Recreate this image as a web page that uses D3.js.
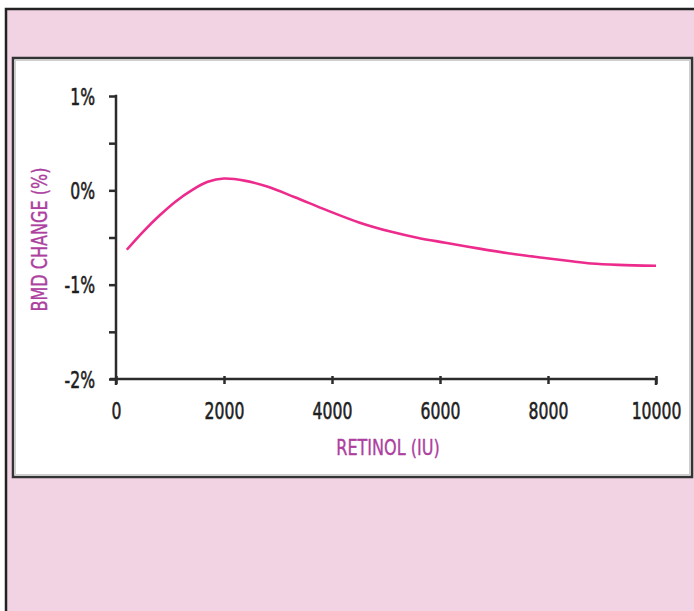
<!DOCTYPE html>
<html>
<head>
<meta charset="utf-8">
<script src="https://cdn.jsdelivr.net/npm/d3@7"></script>
<style>
  html, body { margin: 0; padding: 0; background: #ffffff; }
  svg { display: block; }
</style>
</head>
<body>
<svg id="chart" width="694" height="611"></svg>
<script>
// ---- data ----
const retinolIU = [200, 500, 800, 1100, 1400, 1700, 2000, 2400, 2800, 3300, 3900, 4500, 5100, 5600, 6100, 6700, 7300, 7900, 8400, 8800, 9300, 10000];
const bmdChange = [-0.63, -0.44, -0.27, -0.12, 0.0, 0.09, 0.125, 0.10, 0.04, -0.07, -0.21, -0.34, -0.44, -0.505, -0.555, -0.615, -0.67, -0.715, -0.75, -0.775, -0.79, -0.80];
const xTicks = [0, 2000, 4000, 6000, 8000, 10000];
const yTicks = [-2, -1.5, -1, -0.5, 0, 0.5, 1];
const yLabelTicks = [-2, -1, 0, 1];
const xTitle = "RETINOL (IU)";
const yTitle = "BMD CHANGE (%)";

const svg = d3.select("#chart");
const font = '"DejaVu Sans", sans-serif';
const sx = 0.68;   // horizontal squeeze to imitate a condensed face

// background frames
svg.append("rect").attr("x", 6).attr("y", 9).attr("width", 700).attr("height", 620)
  .attr("fill", "#f1d3e3").attr("stroke", "#222").attr("stroke-width", 2.5);
svg.append("rect").attr("x", 13).attr("y", 58).attr("width", 679).attr("height", 419)
  .attr("fill", "#ffffff").attr("stroke", "#333").attr("stroke-width", 2.5);
svg.append("rect").attr("x", 15.5).attr("y", 60.5).attr("width", 674).attr("height", 414)
  .attr("fill", "none").attr("stroke", "#cfcfcf").attr("stroke-width", 1);

const x = d3.scaleLinear().domain([0, 10000]).range([116, 656]);
const y = d3.scaleLinear().domain([-2, 1]).range([379, 96]);

const axisColor = "#2b2b2b";
const textColor = "#1e1e1e";

// y axis
const yAxis = svg.append("g").attr("transform", "translate(116,0)")
  .call(d3.axisLeft(y).tickValues(yTicks).tickSize(7).tickSizeOuter(0)
    .tickFormat(d => yLabelTicks.includes(d) ? d + "%" : ""));
yAxis.select(".domain").remove();
yAxis.selectAll(".tick line").attr("stroke", axisColor).attr("stroke-width", 2.5);
yAxis.selectAll(".tick text").attr("x", -21 / sx).attr("dy", "0.36em")
  .attr("transform", `scale(${sx},1)`)
  .attr("font-size", 23).attr("fill", textColor).attr("font-family", font)
  .attr("stroke", textColor).attr("stroke-width", 0.6);
yAxis.append("line").attr("x1", 0).attr("x2", 0).attr("y1", y(1) - 1.2).attr("y2", y(-2) + 6)
  .attr("stroke", axisColor).attr("stroke-width", 2.5);

// x axis
const xAxis = svg.append("g").attr("transform", `translate(0,${y(-2)})`)
  .call(d3.axisBottom(x).tickValues(xTicks).tickSize(5).tickSizeOuter(0).tickFormat(d3.format("d")));
xAxis.select(".domain").remove();
xAxis.selectAll(".tick line").attr("y1", -3).attr("stroke", axisColor).attr("stroke-width", 2.5);
xAxis.selectAll(".tick text").attr("y", 24).attr("transform", `scale(${sx},1)`)
  .attr("font-size", 23).attr("fill", textColor).attr("font-family", font)
  .attr("stroke", textColor).attr("stroke-width", 0.6);
xAxis.append("line").attr("x1", x(0) - 6).attr("x2", x(10000) + 1.2).attr("y1", 0).attr("y2", 0)
  .attr("stroke", axisColor).attr("stroke-width", 2.5);
xAxis.append("line").attr("x1", x(10000)).attr("x2", x(10000)).attr("y1", 0).attr("y2", 6)
  .attr("stroke", axisColor).attr("stroke-width", 2.5);

// axis titles
const titleSx = 0.73;
const titleColor = "#ad3f9f";
svg.append("text").attr("transform", `translate(${(x(0) + x(10000)) / 2 + 2},455) scale(${titleSx},1)`)
  .attr("text-anchor", "middle").attr("font-family", font).attr("font-size", 22)
  .attr("fill", titleColor).attr("stroke", titleColor).attr("stroke-width", 0.4).text(xTitle);
svg.append("text").attr("transform", `translate(47,${(y(1) + y(-2)) / 2 + 2}) rotate(-90) scale(${titleSx},1)`)
  .attr("text-anchor", "middle").attr("font-family", font).attr("font-size", 22)
  .attr("fill", titleColor).attr("stroke", titleColor).attr("stroke-width", 0.4).text(yTitle);

// curve
const line = d3.line().x((d, i) => x(retinolIU[i])).y(d => y(d)).curve(d3.curveCatmullRom.alpha(0.5));
svg.append("path").datum(bmdChange).attr("d", line)
  .attr("fill", "none").attr("stroke", "#ec2b8c").attr("stroke-width", 2.6);
</script>
</body>
</html>
